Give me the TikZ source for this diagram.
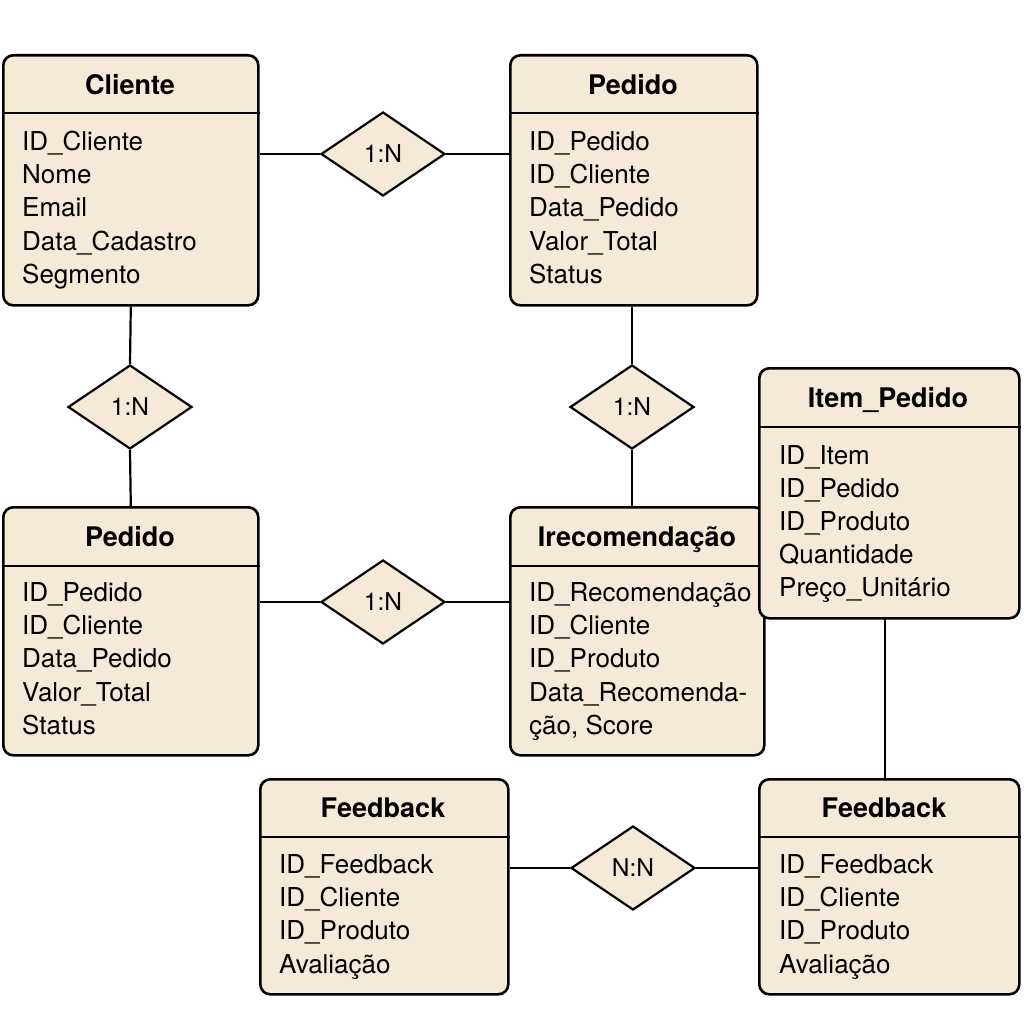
\documentclass[tikz,border=0pt]{standalone}
\usepackage{fontspec}
\setmainfont{TeX Gyre Heros}
\usetikzlibrary{shapes.geometric}
\definecolor{erfill}{HTML}{F4EAD7}
\begin{document}
\begin{tikzpicture}[x=1pt,y=-1pt,
  ent/.style={draw=black, line width=2.6pt, fill=erfill, rounded corners=10pt,
    inner sep=0pt, anchor=north west},
  hdr/.style={line width=2pt},
  rel/.style={diamond, draw=black, line width=2.2pt, fill=erfill, inner sep=0pt,
    minimum width=124pt, minimum height=84pt, font=\fontsize{24.5}{28}\selectfont},
  ttl/.style={font=\bfseries\fontsize{27}{32}\selectfont, inner sep=0pt,
    text height=19pt, text depth=0pt},
  att/.style={anchor=west, font=\fontsize{26}{30}\selectfont, inner sep=0pt,
    text height=18.5pt, text depth=0pt},
  link/.style={line width=2.2pt}
]
\useasboundingbox[fill=white] (0,0) rectangle (1024,1024);

% relationship diamonds
\node[rel] (r1) at (383,154) {1:N};
\node[rel] (r2) at (130,407) {1:N};
\node[rel] (r3) at (632,407) {1:N};
\node[rel] (r4) at (383,602) {1:N};
\node[rel] (r5) at (633,868) {N:N};

% Cliente
\node[ent, minimum width=255pt, minimum height=250pt] (cli) at (2,54) {};
\draw[hdr] (cli.west |- 0,113) -- (cli.east |- 0,113);
\node[ttl] (cli-t) at (130,85) {Cliente};
\foreach \t [count=\i] in {ID\_Cliente, Nome, Email, Data\_Cadastro, Segmento}
  \node[att] (cli-a\i) at (22,{141+33.25*(\i-1)}) {\t};

% Pedido (top)
\node[ent, minimum width=247pt, minimum height=250pt] (ped1) at (509,54) {};
\draw[hdr] (ped1.west |- 0,113) -- (ped1.east |- 0,113);
\node[ttl] (ped1-t) at (633,85) {Pedido};
\foreach \t [count=\i] in {ID\_Pedido, ID\_Cliente, Data\_Pedido, Valor\_Total, Status}
  \node[att] (ped1-a\i) at (529,{141+33.25*(\i-1)}) {\t};

% Pedido (left)
\node[ent, minimum width=255pt, minimum height=248pt] (ped2) at (2,506) {};
\draw[hdr] (ped2.west |- 0,566) -- (ped2.east |- 0,566);
\node[ttl] (ped2-t) at (130,537) {Pedido};
\foreach \t [count=\i] in {ID\_Pedido, ID\_Cliente, Data\_Pedido, Valor\_Total, Status}
  \node[att] (ped2-a\i) at (22,{592+33.25*(\i-1)}) {\t};

% Irecomendação
\node[ent, minimum width=254pt, minimum height=248pt] (rec) at (509,506) {};
\draw[hdr] (rec.west |- 0,566) -- (rec.east |- 0,566);
\node[ttl] (rec-t) at (637,537) {Irecomendação};
\foreach \t [count=\i] in {ID\_Recomendação, ID\_Cliente, ID\_Produto, Data\_Recomenda-, {ção, Score}}
  \node[att] (rec-a\i) at (529,{592+33.25*(\i-1)}) {\t};

% Item_Pedido (drawn over the corner of Irecomendação)
\node[ent, minimum width=260pt, minimum height=250pt] (item) at (758,367) {};
\draw[hdr] (item.west |- 0,427) -- (item.east |- 0,427);
\node[ttl] (item-t) at (888,398) {Item\_Pedido};
\foreach \t [count=\i] in {ID\_Item, ID\_Pedido, ID\_Produto, Quantidade, Preço\_Unitário}
  \node[att] (item-a\i) at (779,{455+33*(\i-1)}) {\t};

% Feedback (left)
\node[ent, minimum width=248pt, minimum height=215pt] (fb1) at (259,778) {};
\draw[hdr] (fb1.west |- 0,837) -- (fb1.east |- 0,837);
\node[ttl] (fb1-t) at (383,808) {Feedback};
\foreach \t [count=\i] in {ID\_Feedback, ID\_Cliente, ID\_Produto, Avaliação}
  \node[att] (fb1-a\i) at (279,{864+33.3*(\i-1)}) {\t};

% Feedback (right)
\node[ent, minimum width=260pt, minimum height=215pt] (fb2) at (758,778) {};
\draw[hdr] (fb2.west |- 0,837) -- (fb2.east |- 0,837);
\node[ttl] (fb2-t) at (884,808) {Feedback};
\foreach \t [count=\i] in {ID\_Feedback, ID\_Cliente, ID\_Produto, Avaliação}
  \node[att] (fb2-a\i) at (779,{864+33.3*(\i-1)}) {\t};

% connectors
\draw[link] (cli.east |- r1) -- (r1.west);
\draw[link] (r1.east) -- (ped1.west |- r1);
\draw[link] (cli.south) -- (r2.north);
\draw[link] (r2.south) -- (ped2.north);
\draw[link] (r3.north |- ped1.south) -- (r3.north);
\draw[link] (r3.south) -- (r3.south |- rec.north);
\draw[link] (ped2.east |- r4) -- (r4.west);
\draw[link] (r4.east) -- (rec.west |- r4);
\draw[link] (885,617) coordinate (itemfoot) -- (itemfoot |- fb2.north);
\draw[link] (fb1.east |- r5) -- (r5.west);
\draw[link] (r5.east) -- (fb2.west |- r5);
\end{tikzpicture}
\end{document}
